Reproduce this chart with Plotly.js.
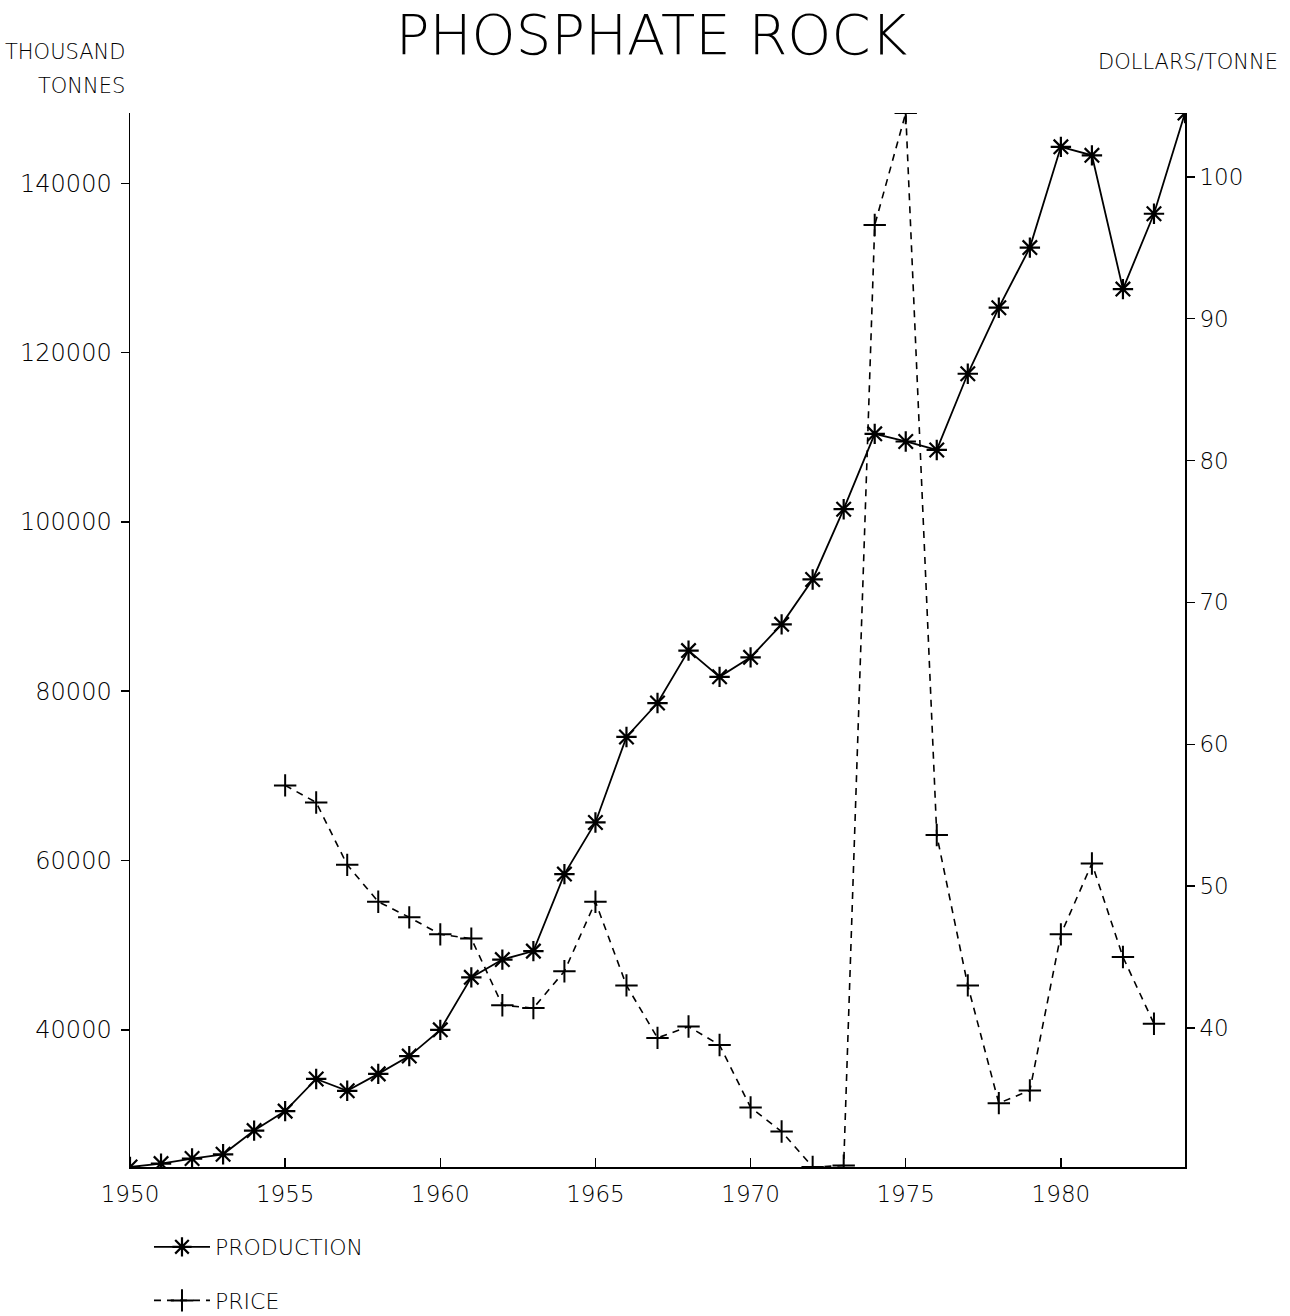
<!DOCTYPE html>
<html>
<head>
<meta charset="utf-8">
<script src="https://cdn.plot.ly/plotly-3.0.1.min.js"></script>
<style>html,body{margin:0;padding:0;background:#fff;}#chart{width:1290px;height:1316px;}</style>
</head>
<body>
<div id="chart"></div>
<script>
const prodYears = [1950,1951,1952,1953,1954,1955,1956,1957,1958,1959,1960,1961,1962,1963,1964,1965,1966,1967,1968,1969,1970,1971,1972,1973,1974,1975,1976,1977,1978,1979,1980,1981,1982,1983,1984];
const production = [23800,24200,24800,25300,28100,30400,34200,32800,34800,36900,40000,46200,48300,49300,58400,64500,74600,78600,84800,81700,84000,87900,93200,101500,110400,109500,108500,117500,125300,132400,144300,143300,127500,136400,148300];
const priceYears = [1955,1956,1957,1958,1959,1960,1961,1962,1963,1964,1965,1966,1967,1968,1969,1970,1971,1972,1973,1974,1975,1976,1977,1978,1979,1980,1981,1982,1983];
const price = [57.1,55.9,51.5,48.9,47.8,46.6,46.3,41.6,41.4,44.0,48.9,43.0,39.3,40.1,38.8,34.4,32.7,30.2,30.3,96.6,104.5,53.6,43.0,34.7,35.6,46.6,51.6,45.0,40.3];
const xTicks = [1950,1955,1960,1965,1970,1975,1980];
const leftTicks = [40000,60000,80000,100000,120000,140000];
const rightTicks = [40,50,60,70,80,90,100];

const FONT = "DejaVu Sans, Liberation Sans, sans-serif";

const traces = [
  {
    x: prodYears, y: production, name: 'PRODUCTION', type: 'scatter', mode: 'lines+markers',
    legendgroup: 'prod',
    line: {color: '#000', width: 1.8},
    marker: {symbol: 'asterisk-open', size: 17, color: '#000', line: {color: '#000', width: 2.2}},
    yaxis: 'y'
  },
  {
    x: priceYears, y: price, name: 'PRICE', type: 'scatter', mode: 'lines+markers',
    legendgroup: 'price',
    line: {color: '#000', width: 1.6, dash: '7px,6px'},
    marker: {symbol: 'cross-thin-open', size: 16, color: '#000', line: {color: '#000', width: 2}},
    yaxis: 'y2'
  }
];

const layout = {
  width: 1290, height: 1316,
  paper_bgcolor: '#fff', plot_bgcolor: '#fff',
  margin: {l: 130, r: 105, t: 113, b: 149, autoexpand: false},
  font: {family: FONT, color: '#000', size: 22},
  showlegend: true,
  legend: {
    x: 0.018, xanchor: 'left', y: -0.056, yanchor: 'top',
    font: {family: FONT, size: 22, color: '#000', weight: 300},
    itemwidth: 56,
    tracegroupgap: 22, bgcolor: 'rgba(0,0,0,0)'
  },
  title: {
    text: 'PHOSPHATE ROCK',
    font: {family: FONT, size: 56, color: '#000', weight: 200},
    x: 0.505, xanchor: 'center', y: 0.974, yanchor: 'middle'
  },
  xaxis: {
    range: [1950, 1984], tickvals: xTicks, ticktext: xTicks.map(String),
    showgrid: false, zeroline: false, showline: true, linecolor: '#000', linewidth: 1.5,
    ticks: 'inside', ticklen: 9, tickwidth: 1.5, tickcolor: '#000',
    ticklabelstandoff: 6,
    tickfont: {family: FONT, size: 23, color: '#000', weight: 200}
  },
  yaxis: {
    range: [23800, 148300], tickvals: leftTicks, tickformat: 'd',
    showgrid: false, zeroline: false, showline: true, linecolor: '#000', linewidth: 1.5,
    ticks: 'outside', ticklen: 8, tickwidth: 1.5, tickcolor: '#000',
    ticklabelstandoff: 4,
    tickfont: {family: FONT, size: 24, color: '#000', weight: 200}
  },
  yaxis2: {
    range: [30.2, 104.5], tickvals: rightTicks, overlaying: 'y', side: 'right',
    showgrid: false, zeroline: false, showline: true, linecolor: '#000', linewidth: 1.8,
    ticks: 'outside', ticklen: 8, tickwidth: 1.5, tickcolor: '#000',
    tickfont: {family: FONT, size: 23, color: '#000', weight: 200}
  },
  annotations: [
    {text: 'THOUSAND', xref: 'paper', yref: 'paper', x: -0.003, y: 1.058, xanchor: 'right', yanchor: 'middle',
     showarrow: false, font: {family: FONT, size: 21, color: '#000', weight: 300}},
    {text: 'TONNES', xref: 'paper', yref: 'paper', x: -0.003, y: 1.026, xanchor: 'right', yanchor: 'middle',
     showarrow: false, font: {family: FONT, size: 21, color: '#000', weight: 300}},
    {text: 'DOLLARS/TONNE', xref: 'paper', yref: 'paper', x: 1.09, y: 1.048, xanchor: 'right', yanchor: 'middle',
     showarrow: false, font: {family: FONT, size: 21, color: '#000', weight: 300}}
  ]
};

Plotly.newPlot('chart', traces, layout, {displayModeBar: false, staticPlot: true});
</script>
</body>
</html>
